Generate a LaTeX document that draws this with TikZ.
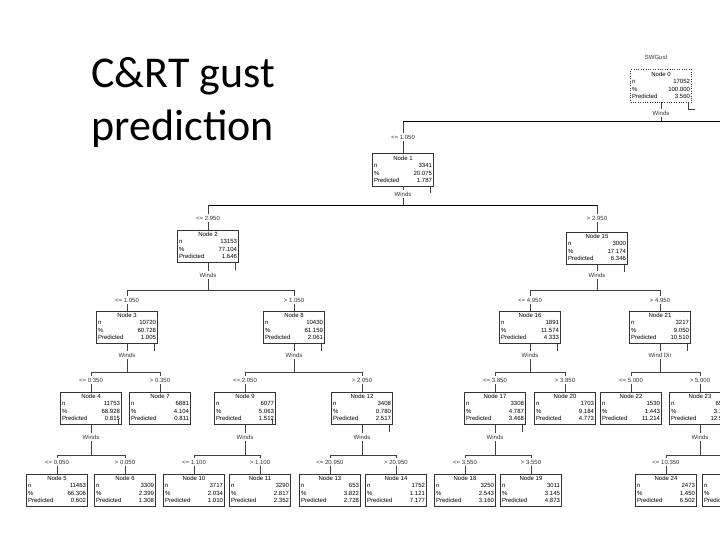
\documentclass[tikz,border=0pt]{standalone}
\usepackage{fontspec}
\setmainfont{Liberation Sans}
\newfontfamily\titlefont{Carlito}
\usepackage{tikz}
\usetikzlibrary{calc}

% contents of one tree box
\newcommand{\boxtext}[4]{%
  \begin{tabular*}{58pt}{@{}l@{\extracolsep{\fill}}r@{}}
    \multicolumn{2}{c}{#1}\\
    n & #2\\
    \% & #3\\
    Predicted & #4
  \end{tabular*}}

\begin{document}
\begin{tikzpicture}[x=1pt, y=-1pt,
    nodebox/.style={draw=black!80, thin, inner sep=1.5pt, font=\fontsize{6}{7.4}\selectfont},
    splitlab/.style={font=\fontsize{6}{7}\selectfont, inner sep=1.5pt, text=black!80},
    edge/.style={black!75, line width=0.6pt},
    tick/.style={black!75, thin}]
    \path[use as bounding box, clip] (0,0) rectangle (720,540);

    % Title
    \node[anchor=base west, font=\titlefont\fontsize{44}{53}\selectfont] (title1) at (88,88) {C\&RT gust};
    \node[anchor=base west, font=\titlefont\fontsize{44}{53}\selectfont] (title2) at (88,141) {prediction};

    % Root
    \node[splitlab] (target) at (656,57) {SWGust};
    \node[nodebox, dotted] (n0) at (661,86) {\boxtext{Node 0}{17052}{100.000}{3.560}};
    \node[splitlab] (v0) at (661,113) {Winds};
    \coordinate (b0) at (661,122);
    \coordinate (rootright) at (740,122);

    % Level 1
    \node[splitlab] (l1) at (403,137) {<= 1.050};
    \node[nodebox] (n1) at (403,170) {\boxtext{Node 1}{3341}{20.075}{1.787}};
    \node[splitlab] (v1) at (403,194) {Winds};
    \coordinate (b1) at (403,205);

    % Level 2
    \node[splitlab] (l2) at (208,218) {<= 2.950};
    \node[nodebox] (n2) at (208,246) {\boxtext{Node 2}{13153}{77.104}{1.646}};
    \node[splitlab] (v2) at (208,275) {Winds};
    \coordinate (b2) at (208,290);
    \node[splitlab] (l15) at (597,218) {> 2.950};
    \node[nodebox] (n15) at (597,248) {\boxtext{Node 15}{3000}{17.174}{6.346}};
    \node[splitlab] (v15) at (597,275) {Winds};
    \coordinate (b15) at (597,290);

    % Level 3
    \node[splitlab] (l3) at (127,300) {<= 1.050};
    \node[nodebox] (n3) at (127,327) {\boxtext{Node 3}{10720}{60.728}{1.005}};
    \node[splitlab] (v3) at (127,355) {Winds};
    \coordinate (b3) at (127,372);
    \node[splitlab] (l8) at (294,300) {> 1.050};
    \node[nodebox] (n8) at (294,327) {\boxtext{Node 8}{10430}{61.159}{2.061}};
    \node[splitlab] (v8) at (294,355) {Winds};
    \coordinate (b8) at (294,372);
    \node[splitlab] (l16) at (530,300) {<= 4.950};
    \node[nodebox] (n16) at (530,327) {\boxtext{Node 16}{1891}{11.574}{4.333}};
    \node[splitlab] (v16) at (530,355) {Winds};
    \coordinate (b16) at (530,372);
    \node[splitlab] (l21) at (660,300) {> 4.950};
    \node[nodebox] (n21) at (660,327) {\boxtext{Node 21}{3217}{9.050}{10.510}};
    \node[splitlab] (v21) at (660,355) {Wind Dir};
    \coordinate (b21) at (660,372);

    % Level 4
    \node[splitlab] (l4) at (91,380) {<= 0.350};
    \node[nodebox] (n4) at (91,408) {\boxtext{Node 4}{11753}{68.928}{0.815}};
    \node[splitlab] (v4) at (91,437) {Winds};
    \coordinate (b4) at (91,455);
    \node[splitlab] (l7) at (160,380) {> 0.350};
    \node[nodebox] (n7) at (160,408) {\boxtext{Node 7}{6881}{4.104}{0.811}};
    \node[splitlab] (l9) at (245,380) {<= 2.050};
    \node[nodebox] (n9) at (245,408) {\boxtext{Node 9}{6077}{5.063}{1.512}};
    \node[splitlab] (v9) at (245,437) {Winds};
    \coordinate (b9) at (245,455);
    \node[splitlab] (l12) at (362,380) {> 2.050};
    \node[nodebox] (n12) at (362,408) {\boxtext{Node 12}{3408}{0.780}{2.517}};
    \node[splitlab] (v12) at (362,437) {Winds};
    \coordinate (b12) at (362,455);
    \node[splitlab] (l17) at (495,380) {<= 3.850};
    \node[nodebox] (n17) at (495,408) {\boxtext{Node 17}{3308}{4.787}{3.468}};
    \node[splitlab] (v17) at (495,437) {Winds};
    \coordinate (b17) at (495,455);
    \node[splitlab] (l20) at (565,380) {> 3.850};
    \node[nodebox] (n20) at (565,408) {\boxtext{Node 20}{1703}{9.184}{4.773}};
    \node[splitlab] (l22) at (631,380) {<= 5.000};
    \node[nodebox] (n22) at (631,408) {\boxtext{Node 22}{1530}{1.443}{11.214}};
    \node[splitlab] (l23) at (700,380) {> 5.000};
    \node[nodebox] (n23) at (700,408) {\boxtext{Node 23}{6552}{3.121}{12.507}};
    \node[splitlab] (v23) at (700,437) {Winds};
    \coordinate (b23) at (700,455);

    % Level 5
    \node[splitlab] (l5) at (57,462) {<= 0.050};
    \node[nodebox] (n5) at (57,490) {\boxtext{Node 5}{11463}{66.306}{0.602}};
    \node[splitlab] (l6) at (125,462) {> 0.050};
    \node[nodebox] (n6) at (125,490) {\boxtext{Node 6}{3309}{2.399}{1.308}};
    \node[splitlab] (l10) at (194,462) {<= 1.100};
    \node[nodebox] (n10) at (194,490) {\boxtext{Node 10}{3717}{2.034}{1.010}};
    \node[splitlab] (l11) at (260,462) {> 1.100};
    \node[nodebox] (n11) at (260,490) {\boxtext{Node 11}{3290}{2.817}{2.352}};
    \node[splitlab] (l13) at (330,462) {<= 20.950};
    \node[nodebox] (n13) at (330,490) {\boxtext{Node 13}{653}{3.822}{2.728}};
    \node[splitlab] (l14) at (396,462) {> 20.950};
    \node[nodebox] (n14) at (396,490) {\boxtext{Node 14}{1752}{1.121}{7.177}};
    \node[splitlab] (l18) at (465,462) {<= 3.550};
    \node[nodebox] (n18) at (465,490) {\boxtext{Node 18}{3250}{2.543}{3.160}};
    \node[splitlab] (l19) at (531,462) {> 3.550};
    \node[nodebox] (n19) at (531,490) {\boxtext{Node 19}{3011}{3.145}{4.873}};
    \node[splitlab] (l24) at (666,462) {<= 10.350};
    \node[nodebox] (n24) at (666,490) {\boxtext{Node 24}{2473}{1.450}{6.502}};
    \node[splitlab] (l25) at (733,462) {> 10.350};
    \node[nodebox] (n25) at (733,490) {\boxtext{Node 25}{4079}{2.392}{13.180}};

    % Root split
    \draw[edge] (n0) -- (v0);
    \draw[edge] (v0) -- (b0);
    \draw[edge, line width=1pt, black] (l1 |- b0) -- (rootright);
    \draw[edge] (l1 |- b0) -- (l1);
    \draw[edge] (l1) -- (n1);

    % Node 1 split
    \draw[edge] (n1) -- (v1);
    \draw[edge] (v1) -- (b1);
    \draw[edge, line width=0.9pt, black] (l2 |- b1) -- (l15 |- b1);
    \draw[edge] (l2 |- b1) -- (l2);
    \draw[edge] (l2) -- (n2);
    \draw[edge] (l15 |- b1) -- (l15);
    \draw[edge] (l15) -- (n15);

    % Node 2 split
    \draw[edge] (n2) -- (v2);
    \draw[edge] (v2) -- (b2);
    \draw[edge] (l3 |- b2) -- (l8 |- b2);
    \draw[edge] (l3 |- b2) -- (l3);
    \draw[edge] (l3) -- (n3);
    \draw[edge] (l8 |- b2) -- (l8);
    \draw[edge] (l8) -- (n8);

    % Node 15 split
    \draw[edge] (n15) -- (v15);
    \draw[edge] (v15) -- (b15);
    \draw[edge] (l16 |- b15) -- (l21 |- b15);
    \draw[edge] (l16 |- b15) -- (l16);
    \draw[edge] (l16) -- (n16);
    \draw[edge] (l21 |- b15) -- (l21);
    \draw[edge] (l21) -- (n21);

    % Node 3 split
    \draw[edge] (n3) -- (v3);
    \draw[edge] (v3) -- (b3);
    \draw[edge] (l4 |- b3) -- (l7 |- b3);
    \draw[edge] (l4 |- b3) -- (l4);
    \draw[edge] (l4) -- (n4);
    \draw[edge] (l7 |- b3) -- (l7);
    \draw[edge] (l7) -- (n7);

    % Node 8 split
    \draw[edge] (n8) -- (v8);
    \draw[edge] (v8) -- (b8);
    \draw[edge] (l9 |- b8) -- (l12 |- b8);
    \draw[edge] (l9 |- b8) -- (l9);
    \draw[edge] (l9) -- (n9);
    \draw[edge] (l12 |- b8) -- (l12);
    \draw[edge] (l12) -- (n12);

    % Node 16 split
    \draw[edge] (n16) -- (v16);
    \draw[edge] (v16) -- (b16);
    \draw[edge] (l17 |- b16) -- (l20 |- b16);
    \draw[edge] (l17 |- b16) -- (l17);
    \draw[edge] (l17) -- (n17);
    \draw[edge] (l20 |- b16) -- (l20);
    \draw[edge] (l20) -- (n20);

    % Node 21 split
    \draw[edge] (n21) -- (v21);
    \draw[edge] (v21) -- (b21);
    \draw[edge] (l22 |- b21) -- (l23 |- b21);
    \draw[edge] (l22 |- b21) -- (l22);
    \draw[edge] (l22) -- (n22);
    \draw[edge] (l23 |- b21) -- (l23);
    \draw[edge] (l23) -- (n23);

    % Node 4 split
    \draw[edge] (n4) -- (v4);
    \draw[edge] (v4) -- (b4);
    \draw[edge] (l5 |- b4) -- (l6 |- b4);
    \draw[edge] (l5 |- b4) -- (l5);
    \draw[edge] (l5) -- (n5);
    \draw[edge] (l6 |- b4) -- (l6);
    \draw[edge] (l6) -- (n6);

    % Node 9 split
    \draw[edge] (n9) -- (v9);
    \draw[edge] (v9) -- (b9);
    \draw[edge] (l10 |- b9) -- (l11 |- b9);
    \draw[edge] (l10 |- b9) -- (l10);
    \draw[edge] (l10) -- (n10);
    \draw[edge] (l11 |- b9) -- (l11);
    \draw[edge] (l11) -- (n11);

    % Node 12 split
    \draw[edge] (n12) -- (v12);
    \draw[edge] (v12) -- (b12);
    \draw[edge] (l13 |- b12) -- (l14 |- b12);
    \draw[edge] (l13 |- b12) -- (l13);
    \draw[edge] (l13) -- (n13);
    \draw[edge] (l14 |- b12) -- (l14);
    \draw[edge] (l14) -- (n14);

    % Node 17 split
    \draw[edge] (n17) -- (v17);
    \draw[edge] (v17) -- (b17);
    \draw[edge] (l18 |- b17) -- (l19 |- b17);
    \draw[edge] (l18 |- b17) -- (l18);
    \draw[edge] (l18) -- (n18);
    \draw[edge] (l19 |- b17) -- (l19);
    \draw[edge] (l19) -- (n19);

    % Node 23 split
    \draw[edge] (n23) -- (v23);
    \draw[edge] (v23) -- (b23);
    \draw[edge] (l24 |- b23) -- (l25 |- b23);
    \draw[edge] (l24 |- b23) -- (l24);
    \draw[edge] (l24) -- (n24);
    \draw[edge] (l25 |- b23) -- (l25);
    \draw[edge] (l25) -- (n25);

    % Collapse ticks on split boxes
    \draw[tick] ([xshift=-4pt]n0.south east) -- ++(0,7) -- ++(7,0);
    \draw[tick] ([xshift=-4pt]n1.south east) -- ++(0,7);
    \draw[tick] ([xshift=-4pt]n2.south east) -- ++(0,7);
    \draw[tick] ([xshift=-4pt]n15.south east) -- ++(0,7);
    \draw[tick] ([xshift=-4pt]n3.south east) -- ++(0,7);
    \draw[tick] ([xshift=-4pt]n8.south east) -- ++(0,7);
    \draw[tick] ([xshift=-4pt]n16.south east) -- ++(0,7);
    \draw[tick] ([xshift=-4pt]n21.south east) -- ++(0,7);
    \draw[tick] ([xshift=-4pt]n4.south east) -- ++(0,-6);
    \draw[tick] ([xshift=-4pt]n9.south east) -- ++(0,-6);
    \draw[tick] ([xshift=-4pt]n12.south east) -- ++(0,7);
    \draw[tick] ([xshift=-4pt]n17.south east) -- ++(0,7);
    \draw[tick] ([xshift=-4pt]n23.south east) -- ++(0,7);
\end{tikzpicture}
\end{document}
